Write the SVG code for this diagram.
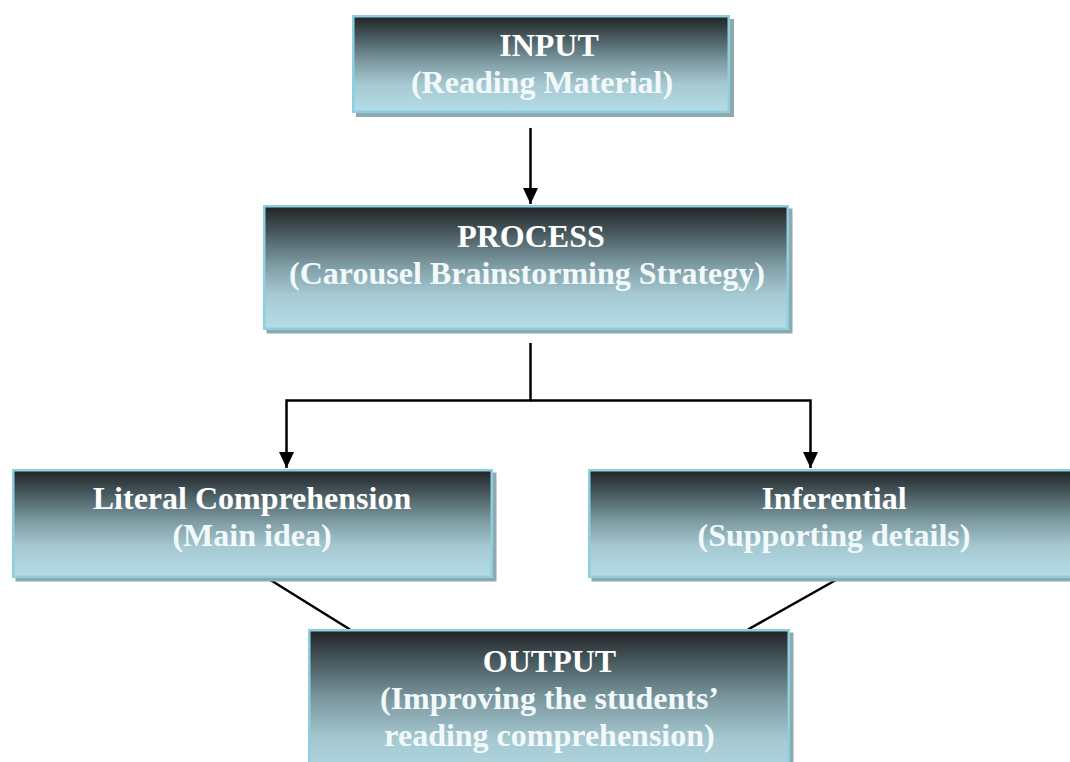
<svg xmlns="http://www.w3.org/2000/svg" width="1070" height="762" viewBox="0 0 1070 762">
  <defs>
    <linearGradient id="boxGrad" x1="0" y1="0" x2="0" y2="1">
      <stop offset="0" stop-color="#212325"/>
      <stop offset="0.22" stop-color="#485a5f"/>
      <stop offset="0.48" stop-color="#7e9ba3"/>
      <stop offset="0.72" stop-color="#a6c9d2"/>
      <stop offset="1" stop-color="#b5dde7"/>
    </linearGradient>
    <linearGradient id="outGrad" x1="0" y1="0" x2="0" y2="1">
      <stop offset="0" stop-color="#212325"/>
      <stop offset="0.2" stop-color="#485a5f"/>
      <stop offset="0.45" stop-color="#7e9ba3"/>
      <stop offset="0.7" stop-color="#a6c9d2"/>
      <stop offset="1" stop-color="#b5dde7"/>
    </linearGradient>
    <marker id="arrow" viewBox="0 0 16 15" refX="16" refY="7.5" markerWidth="16" markerHeight="15" markerUnits="userSpaceOnUse" orient="auto">
      <path d="M0,0 L16,7.5 L0,15 Z" fill="#000"/>
    </marker>
    <style>
      .shadow { fill: #8fa9b0; }
      .box { fill: url(#boxGrad); stroke: #8ecfdf; stroke-width: 2.5; }
      .obox { fill: url(#outGrad); stroke: #8ecfdf; stroke-width: 2.5; }
      .lbl { font-family: "Liberation Serif", "Times New Roman", serif; font-weight: bold; font-size: 32px; fill: #ffffff; text-anchor: middle; }
      .sub { fill: #f2f9fb; }
      .conn { stroke: #000; stroke-width: 2.5; fill: none; }
    </style>
  </defs>

  <g id="connectors">
    <line class="conn" x1="530.5" y1="128" x2="530.5" y2="204" marker-end="url(#arrow)"/>
    <polyline class="conn" points="530.5,343 530.5,400.5 286.5,400.5 286.5,468" marker-end="url(#arrow)"/>
    <polyline class="conn" points="530.5,400.5 810.5,400.5 810.5,468" marker-end="url(#arrow)"/>
    <line class="conn" x1="264" y1="576" x2="350" y2="629.5"/>
    <line class="conn" x1="843" y1="576" x2="748" y2="629.5"/>
  </g>

  <g id="input">
    <rect class="shadow" x="356" y="19" width="378" height="98"/>
    <rect class="box" x="353.25" y="16.25" width="375.5" height="95.5"/>
    <text class="lbl" x="549" y="56">INPUT</text>
    <text class="lbl sub" x="542" y="93">(Reading Material)</text>
  </g>

  <g id="process">
    <rect class="shadow" x="266.5" y="208.5" width="526" height="125"/>
    <rect class="box" x="264.25" y="206.25" width="523.5" height="122.5"/>
    <text class="lbl" x="531" y="247">PROCESS</text>
    <text class="lbl sub" x="527" y="284">(Carousel Brainstorming Strategy)</text>
  </g>

  <g id="literal">
    <rect class="shadow" x="15.5" y="472.5" width="481" height="109"/>
    <rect class="box" x="13.25" y="470.25" width="478.5" height="106.5"/>
    <text class="lbl" x="252" y="509">Literal Comprehension</text>
    <text class="lbl sub" x="252" y="546">(Main idea)</text>
  </g>

  <g id="inferential">
    <rect class="shadow" x="591.5" y="472.5" width="485" height="109"/>
    <rect class="box" x="589.25" y="470.25" width="482.5" height="106.5"/>
    <text class="lbl" x="834" y="509">Inferential</text>
    <text class="lbl sub" x="834" y="546">(Supporting details)</text>
  </g>

  <g id="output">
    <rect class="shadow" x="311.5" y="632.5" width="482" height="160"/>
    <rect class="obox" x="309.25" y="630.25" width="479.5" height="157.5"/>
    <text class="lbl" x="549.5" y="672">OUTPUT</text>
    <text class="lbl sub" x="549.5" y="709">(Improving the students’</text>
    <text class="lbl sub" x="549.5" y="746">reading comprehension)</text>
  </g>
</svg>
